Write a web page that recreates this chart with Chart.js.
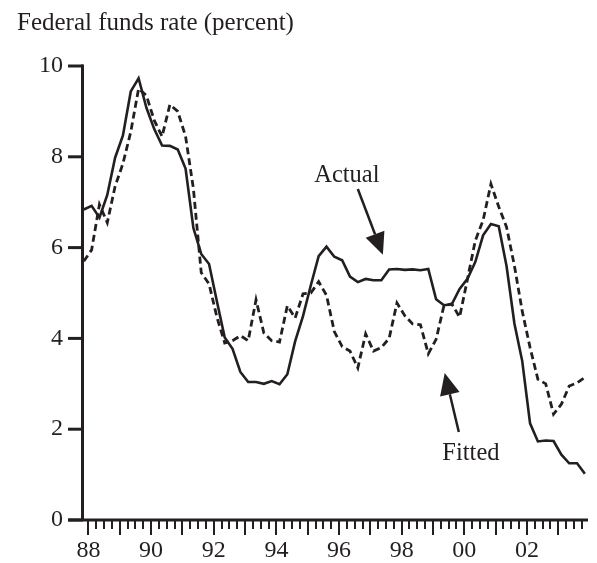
<!DOCTYPE html>
<html>
<head>
<meta charset="utf-8">
<script src="https://cdn.jsdelivr.net/npm/chart.js@4.4.1/dist/chart.umd.min.js"></script>
<style>
  html, body { margin: 0; padding: 0; background: #fff; }
  #wrap { width: 597px; height: 563px; position: relative; }
</style>
</head>
<body>
<div id="wrap"><canvas id="chart" width="597" height="563"></canvas></div>
<script>
// --- DATA (quarterly, 1987Q3 - 2003Q3) ---
const quarters = [
  '1987Q3','1987Q4',
  '1988Q1','1988Q2','1988Q3','1988Q4', '1989Q1','1989Q2','1989Q3','1989Q4',
  '1990Q1','1990Q2','1990Q3','1990Q4', '1991Q1','1991Q2','1991Q3','1991Q4',
  '1992Q1','1992Q2','1992Q3','1992Q4', '1993Q1','1993Q2','1993Q3','1993Q4',
  '1994Q1','1994Q2','1994Q3','1994Q4', '1995Q1','1995Q2','1995Q3','1995Q4',
  '1996Q1','1996Q2','1996Q3','1996Q4', '1997Q1','1997Q2','1997Q3','1997Q4',
  '1998Q1','1998Q2','1998Q3','1998Q4', '1999Q1','1999Q2','1999Q3','1999Q4',
  '2000Q1','2000Q2','2000Q3','2000Q4', '2001Q1','2001Q2','2001Q3','2001Q4',
  '2002Q1','2002Q2','2002Q3','2002Q4', '2003Q1','2003Q2','2003Q3'
];

const actualRate = [
  6.84, 6.92,
  6.66, 7.16, 7.98, 8.47,  9.44, 9.73, 9.08, 8.61,
  8.25, 8.24, 8.16, 7.74,  6.43, 5.86, 5.64, 4.82,
  4.02, 3.77, 3.26, 3.04,  3.04, 3.00, 3.06, 2.99,
  3.21, 3.94, 4.49, 5.17,  5.81, 6.02, 5.80, 5.72,
  5.36, 5.24, 5.31, 5.28,  5.28, 5.52, 5.53, 5.51,
  5.52, 5.50, 5.53, 4.86,  4.73, 4.75, 5.09, 5.31,
  5.68, 6.27, 6.52, 6.47,  5.59, 4.33, 3.50, 2.13,
  1.73, 1.75, 1.74, 1.44,  1.25, 1.25, 1.02
];

const fittedRate = [
  5.70, 5.95,
  6.95, 6.55, 7.35, 7.85,  8.55, 9.50, 9.35, 8.80,
  8.45, 9.15, 9.00, 8.45,  7.30, 5.45, 5.20, 4.47,
  3.90, 3.95, 4.06, 3.95,  4.85, 4.12, 3.95, 3.92,
  4.72, 4.45, 4.98, 5.00,  5.25, 4.95, 4.15, 3.82,
  3.72, 3.35, 4.10, 3.72,  3.80, 4.00, 4.78, 4.50,
  4.32, 4.30, 3.66, 3.98,  4.72, 4.76, 4.47, 5.30,
  6.15, 6.60, 7.40, 6.90,  6.45, 5.60, 4.60, 3.80,
  3.10, 3.00, 2.33, 2.55,  2.95, 3.02, 3.14
];

const yearLabels = ['88', '90', '92', '94', '96', '98', '00', '02'];
const yTicks = [0, 2, 4, 6, 8, 10];

// --- STYLE ---
const INK = '#231f20';
const SERIF = '"Liberation Serif", "Times New Roman", serif';
const FIRST_YEAR_TICK = 0.6;   // quarters after the first observation

// quarterly tick marks, long one at each year
const quarterTicks = [];
for (let k = 0; k < 64; k++) quarterTicks.push(FIRST_YEAR_TICK + k);

// --- PLUGINS ---
const axesPlugin = {
  id: 'paperAxes',
  afterDraw(chart) {
    const { ctx, chartArea: a, scales: { x, y } } = chart;
    const axisY = y.getPixelForValue(0);
    ctx.save();
    ctx.strokeStyle = INK;
    ctx.lineCap = 'butt';

    // axis lines
    ctx.lineWidth = 3;
    ctx.beginPath();
    ctx.moveTo(a.left - 0.5, y.getPixelForValue(10) - 1.5);
    ctx.lineTo(a.left - 0.5, axisY + 1.5);
    ctx.moveTo(a.left - 15, axisY);
    ctx.lineTo(a.right, axisY);
    ctx.stroke();

    // y ticks
    yTicks.forEach(v => {
      const py = y.getPixelForValue(v);
      ctx.beginPath();
      ctx.moveTo(a.left - 15, py);
      ctx.lineTo(a.left, py);
      ctx.stroke();
    });

    // x ticks
    ctx.lineWidth = 2;
    quarterTicks.forEach((v, k) => {
      const px = Math.round(x.getPixelForValue(v));
      const len = k % 4 === 0 ? 15 : 9;
      ctx.beginPath();
      ctx.moveTo(px, axisY);
      ctx.lineTo(px, axisY + len);
      ctx.stroke();
    });
    ctx.restore();
  }
};

// labels and arrows, placed in data units (quarter index, percent)
const notes = [
  { text: 'Actual', at: [33.6, 7.44], tail: [35.0, 7.29], tip: [38.2, 5.84] },
  { text: 'Fitted', at: [49.45, 1.32], tail: [47.9, 1.94], tip: [46.1, 3.24] }
];

const notesPlugin = {
  id: 'paperNotes',
  afterDraw(chart) {
    const { ctx, scales: { x, y } } = chart;
    ctx.save();
    ctx.fillStyle = INK;
    ctx.strokeStyle = INK;

    // title
    ctx.font = '25px ' + SERIF;
    ctx.textAlign = 'left';
    ctx.textBaseline = 'alphabetic';
    ctx.fillText('Federal funds rate (percent)', 17, 29.5);

    notes.forEach(n => {
      ctx.font = '24.5px ' + SERIF;
      ctx.textAlign = 'center';
      ctx.fillText(n.text, x.getPixelForValue(n.at[0]), y.getPixelForValue(n.at[1]));

      const x1 = x.getPixelForValue(n.tail[0]), y1 = y.getPixelForValue(n.tail[1]);
      const x2 = x.getPixelForValue(n.tip[0]), y2 = y.getPixelForValue(n.tip[1]);
      const ang = Math.atan2(y2 - y1, x2 - x1);
      const headLen = 22, half = 10;
      const bx = x2 - headLen * Math.cos(ang), by = y2 - headLen * Math.sin(ang);

      ctx.lineWidth = 2.5;
      ctx.beginPath();
      ctx.moveTo(x1, y1);
      ctx.lineTo(bx, by);
      ctx.stroke();

      ctx.beginPath();
      ctx.moveTo(x2, y2);
      ctx.lineTo(bx + half * Math.sin(ang), by - half * Math.cos(ang));
      ctx.lineTo(bx - half * Math.sin(ang), by + half * Math.cos(ang));
      ctx.closePath();
      ctx.fill();
    });
    ctx.restore();
  }
};

// --- CHART ---
const ctx = document.getElementById('chart').getContext('2d');
new Chart(ctx, {
  type: 'line',
  data: {
    labels: quarters,
    datasets: [
      {
        label: 'Actual',
        data: actualRate.map((v, i) => ({ x: i, y: v })),
        borderColor: INK,
        borderWidth: 2.6,
        pointRadius: 0,
        tension: 0,
        fill: false
      },
      {
        label: 'Fitted',
        data: fittedRate.map((v, i) => ({ x: i, y: v })),
        borderColor: INK,
        borderWidth: 2.8,
        borderDash: [7, 4],
        pointRadius: 0,
        tension: 0,
        fill: false
      }
    ]
  },
  options: {
    responsive: false,
    animation: false,
    devicePixelRatio: 1,
    layout: { padding: { top: 66, right: 9, left: 0, bottom: 0 } },
    plugins: { legend: { display: false }, tooltip: { enabled: false }, title: { display: false } },
    scales: {
      x: {
        type: 'linear',
        min: -0.1,
        max: 64.4,
        grid: { display: false, drawTicks: true, tickLength: 15 },
        border: { display: false },
        afterBuildTicks: s => { s.ticks = quarterTicks.map(v => ({ value: v })); },
        ticks: {
          autoSkip: false,
          maxRotation: 0,
          padding: 1,
          color: INK,
          font: { family: SERIF, size: 24 },
          callback: (v, i) => (i % 8 === 0 ? yearLabels[i / 8] : '')
        },
        afterFit: s => { s.height = 43; }
      },
      y: {
        min: 0,
        max: 10,
        grid: { display: false, drawTicks: true, tickLength: 15 },
        border: { display: false },
        afterBuildTicks: s => { s.ticks = yTicks.map(v => ({ value: v })); },
        ticks: {
          padding: 5,
          color: INK,
          font: { family: SERIF, size: 24 }
        },
        afterFit: s => { s.width = 83; }
      }
    }
  },
  plugins: [axesPlugin, notesPlugin]
});
</script>
</body>
</html>
